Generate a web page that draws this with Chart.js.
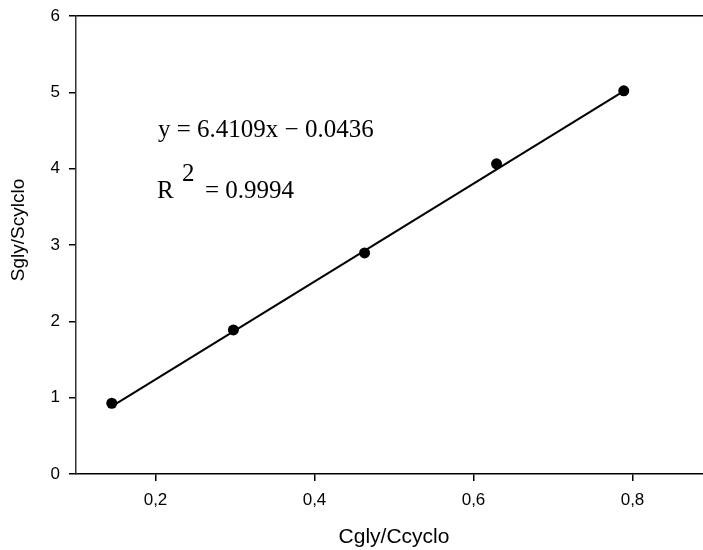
<!DOCTYPE html>
<html>
<head>
<meta charset="utf-8">
<script src="https://cdn.jsdelivr.net/npm/chart.js@4.4.1/dist/chart.umd.min.js"></script>
<style>
  html, body { margin: 0; padding: 0; background: #fff; overflow: hidden; }
  #wrap { position: relative; width: 712px; height: 550px; }
</style>
</head>
<body>
<div id="wrap"><canvas id="c"></canvas></div>
<script>
// ---- data ----
const pointsX = [0.145, 0.298, 0.463, 0.629, 0.789];
const pointsY = [0.927, 1.887, 2.896, 4.063, 5.020];
const fitLineX = [0.145, 0.789];
const fitLineY = [0.885, 5.015];
const xTickValues = [0.2, 0.4, 0.6, 0.8];
const xTickLabels = ['0,2', '0,4', '0,6', '0,8'];
const yTickValues = [0, 1, 2, 3, 4, 5, 6];
const yTickLabels = ['0', '1', '2', '3', '4', '5', '6'];
const xTitle = 'Cgly/Ccyclo';
const yTitle = 'Sgly/Scylclo';
const equationText = 'y = 6.4109x \u2212 0.0436';
const r2Base = 'R';
const r2Sup = '2';
const r2Value = '= 0.9994';

Chart.defaults.font.family = '"Liberation Sans", Arial, sans-serif';
Chart.defaults.color = '#000';

function fixSize(prop, size) {
  return s => {
    s[prop] = size;
    s.paddingLeft = 0; s.paddingRight = 0; s.paddingTop = 0; s.paddingBottom = 0;
  };
}

const annotate = {
  id: 'annotate',
  afterDraw(chart) {
    const ctx = chart.ctx;
    ctx.save();
    ctx.fillStyle = '#000';
    ctx.textBaseline = 'alphabetic';
    ctx.textAlign = 'left';
    ctx.font = '25px "Liberation Serif", "Times New Roman", serif';
    ctx.fillText(equationText, 158, 137);
    ctx.fillText(r2Base, 157, 198);
    ctx.fillText(r2Value, 205, 198);
    ctx.fillText(r2Sup, 182, 181);
    // y axis title
    ctx.translate(19, 230);
    ctx.rotate(-Math.PI / 2);
    ctx.textAlign = 'center';
    ctx.textBaseline = 'middle';
    ctx.font = '19px "Liberation Sans", Arial, sans-serif';
    ctx.fillText(yTitle, 0, 0);
    ctx.restore();
  }
};

const pts = pointsX.map((x, i) => ({ x: x, y: pointsY[i] }));
const fit = fitLineX.map((x, i) => ({ x: x, y: fitLineY[i] }));

new Chart(document.getElementById('c'), {
  type: 'scatter',
  data: {
    datasets: [
      {
        data: pts,
        pointRadius: 5.5,
        pointBackgroundColor: '#000',
        pointBorderColor: '#000',
        pointBorderWidth: 0,
        showLine: false,
        order: 0
      },
      {
        data: fit,
        showLine: true,
        borderColor: '#000',
        borderWidth: 2,
        pointRadius: 0,
        fill: false,
        order: 1
      }
    ]
  },
  options: {
    responsive: true,
    maintainAspectRatio: false,
    animation: false,
    layout: { padding: 0, autoPadding: false },
    plugins: { legend: { display: false }, tooltip: { enabled: false } },
    scales: {
      x: {
        type: 'linear',
        position: 'bottom',
        min: 0.1,
        max: 0.9,
        afterBuildTicks: s => { s.ticks = xTickValues.map(v => ({ value: v })); },
        afterFit: fixSize('height', 76),
        ticks: {
          font: { size: 17 },
          padding: 9,
          maxRotation: 0,
          autoSkip: false,
          callback: (v, i) => xTickLabels[i]
        },
        grid: { drawOnChartArea: false, drawTicks: true, tickLength: 7, color: '#000', lineWidth: 1.5 },
        border: { display: true, color: '#000', width: 1.5 },
        title: { display: true, text: xTitle, font: { size: 21, lineHeight: 1.2 }, padding: 0 }
      },
      x2: {
        type: 'linear',
        position: 'top',
        display: true,
        min: 0.1,
        max: 0.9,
        afterFit: fixSize('height', 16),
        ticks: { display: false },
        grid: { display: false, drawTicks: false },
        border: { display: true, color: '#000', width: 1.5 }
      },
      y: {
        type: 'linear',
        position: 'left',
        min: 0,
        max: 6,
        afterBuildTicks: s => { s.ticks = yTickValues.map(v => ({ value: v })); },
        afterFit: fixSize('width', 76),
        ticks: {
          font: { size: 17 },
          padding: 9,
          callback: (v, i) => yTickLabels[i]
        },
        grid: { drawOnChartArea: false, drawTicks: true, tickLength: 7, color: '#000', lineWidth: 1.5 },
        border: { display: true, color: '#333', width: 1.5 }
      }
    }
  },
  plugins: [annotate]
});
</script>
</body>
</html>
